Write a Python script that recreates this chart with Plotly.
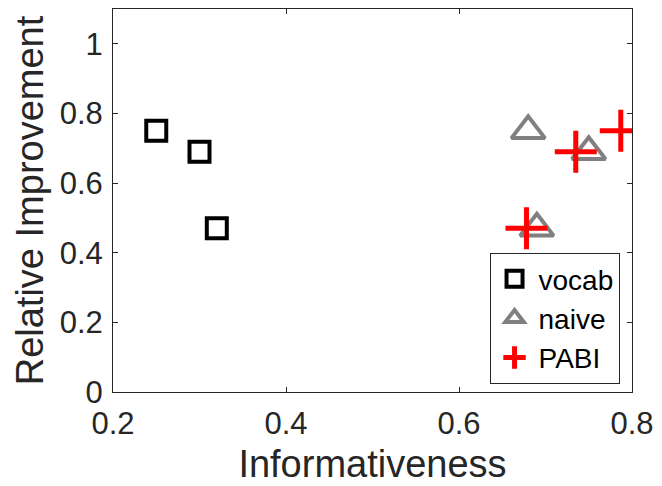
import plotly.graph_objects as go

# Data
vocab_x = [0.25, 0.30, 0.32]
vocab_y = [0.75, 0.69, 0.47]
naive_x = [0.68, 0.75, 0.69]
naive_y = [0.75, 0.69, 0.47]
pabi_x = [0.787, 0.735, 0.678]
pabi_y = [0.75, 0.69, 0.47]

x_ticks = [0.2, 0.4, 0.6, 0.8]
y_ticks = [0, 0.2, 0.4, 0.6, 0.8, 1]

FONT = "Liberation Sans, Arial, Helvetica, sans-serif"
AX = "#262626"

fig = go.Figure()
fig.add_trace(go.Scatter(
    x=vocab_x, y=vocab_y, mode="markers", name="vocab",
    marker=dict(symbol="square-open", size=20, color="black",
                line=dict(color="black", width=4)),
))
fig.add_trace(go.Scatter(
    x=naive_x, y=naive_y, mode="markers", name="naive",
    marker=dict(symbol="triangle-up-open", size=29, color="#808080",
                line=dict(color="#808080", width=4)),
))
fig.add_trace(go.Scatter(
    x=pabi_x, y=pabi_y, mode="markers", name="PABI",
    marker=dict(symbol="cross-thin-open", size=30, color="#ff0000",
                line=dict(color="#ff0000", width=5)),
))

axis_common = dict(
    showgrid=False, zeroline=False, showline=True, linecolor=AX, linewidth=1,
    mirror="allticks", ticks="inside", ticklen=5, tickcolor=AX, tickwidth=1,
    tickfont=dict(family=FONT, size=31, color=AX),
)

fig.update_layout(
    width=662, height=486,
    margin=dict(l=113, r=22, t=8, b=94),
    paper_bgcolor="white", plot_bgcolor="white",
    showlegend=True,
    legend=dict(
        x=0.976, y=0.021, xanchor="right", yanchor="bottom",
        bgcolor="white", bordercolor=AX, borderwidth=1,
        font=dict(family=FONT, size=28, color="black"),
        itemwidth=38, tracegroupgap=0,
    ),
    xaxis=dict(
        range=[0.2, 0.8], tickvals=x_ticks, ticktext=[f"{v:g}" for v in x_ticks],
        ticklabelstandoff=4,
        title=dict(text="Informativeness", font=dict(family=FONT, size=38, color=AX), standoff=10),
        **axis_common,
    ),
    yaxis=dict(
        range=[0, 1.1], tickvals=y_ticks, ticktext=[f"{v:g}" for v in y_ticks],
        ticklabelstandoff=3,
        title=dict(text="Relative Improvement", font=dict(family=FONT, size=38, color=AX), standoff=4),
        **axis_common,
    ),
)

fig.write_html("out.html")
